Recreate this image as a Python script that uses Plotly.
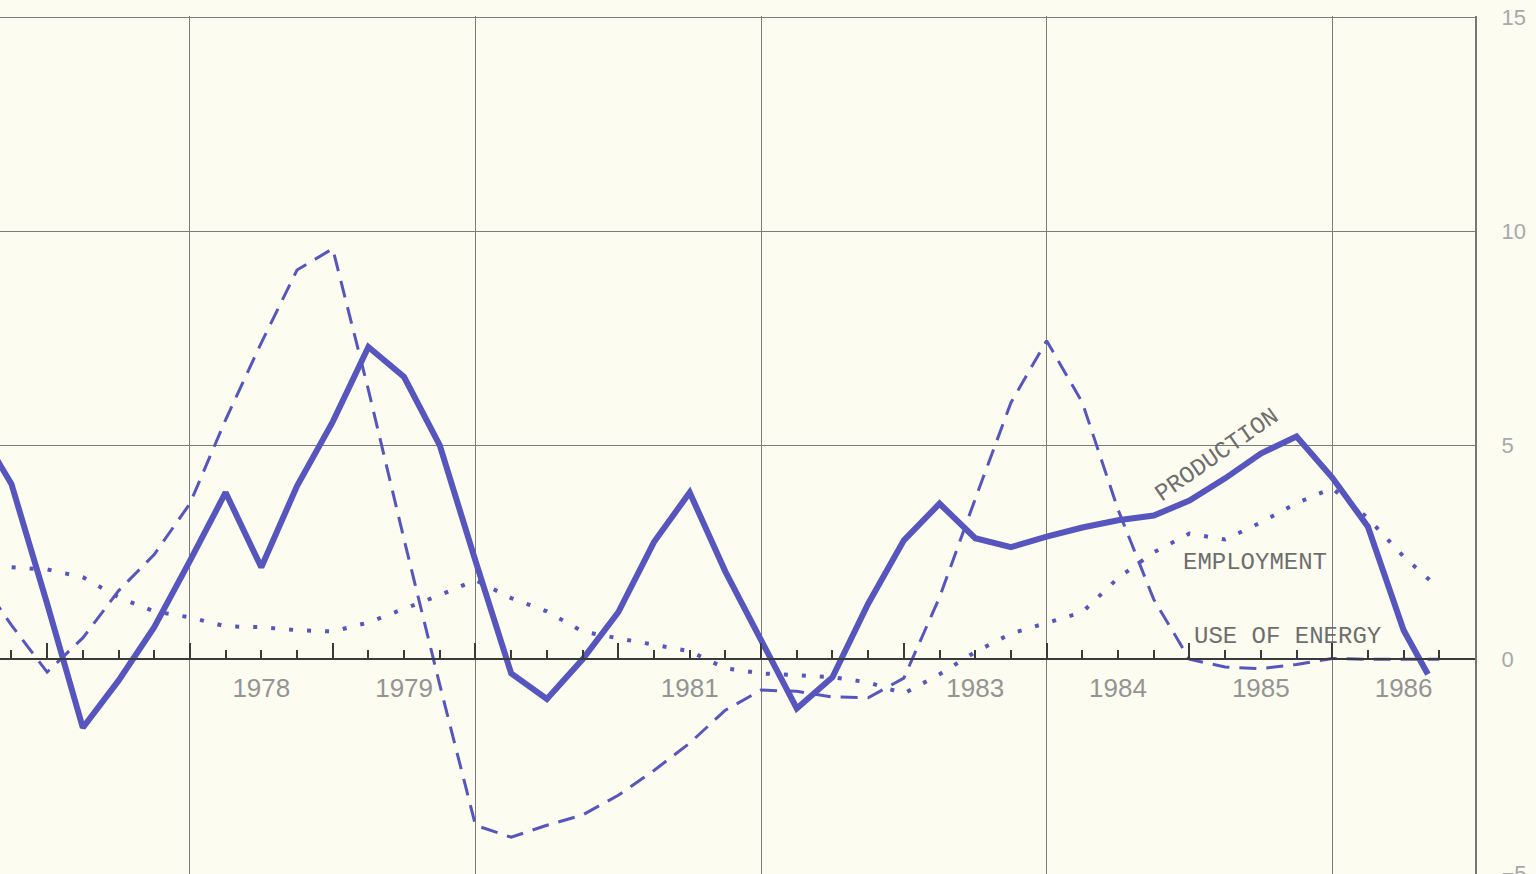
import plotly.graph_objects as go

# ---------------- data ----------------
quarters = [1976.5, 1976.75, 1977.0, 1977.25, 1977.5, 1977.75,
            1978.0, 1978.25, 1978.5, 1978.75, 1979.0, 1979.25, 1979.5, 1979.75,
            1980.0, 1980.25, 1980.5, 1980.75, 1981.0, 1981.25, 1981.5, 1981.75,
            1982.0, 1982.25, 1982.5, 1982.75, 1983.0, 1983.25, 1983.5, 1983.75,
            1984.0, 1984.25, 1984.5, 1984.75, 1985.0, 1985.25, 1985.5, 1985.75,
            1986.0, 1986.25, 1986.5, 1986.75]

production_t = quarters[:-1] + [1986.67]
production = [5.5, 4.1, 1.3, -1.6, -0.5, 0.75,
              2.3, 3.9, 2.15, 4.05, 5.55, 7.3, 6.6, 5.0,
              2.3, -0.33, -0.93, 0.0, 1.1, 2.74, 3.9, 2.05,
              0.45, -1.15, -0.42, 1.3, 2.78, 3.64, 2.83, 2.62,
              2.87, 3.08, 3.25, 3.36, 3.71, 4.23, 4.81, 5.21,
              4.25, 3.1, 0.68, -0.35]

energy = [2.0, 0.8, -0.3, 0.5, 1.6, 2.45,
          3.64, 5.6, 7.4, 9.1, 9.6, 6.3, 2.8, -0.6,
          -3.88, -4.16, -3.88, -3.64, -3.18, -2.6, -1.96, -1.19,
          -0.72, -0.75, -0.88, -0.9, -0.44, 1.45, 3.75, 6.0,
          7.45, 6.0, 3.5, 1.4, 0.0, -0.18, -0.22, -0.12,
          0.02, 0.0, 0.0, 0.0]

employment = [2.2, 2.15, 2.1, 1.92, 1.45, 1.12,
              0.98, 0.77, 0.75, 0.68, 0.65, 0.86, 1.17, 1.5,
              1.85, 1.43, 1.12, 0.65, 0.49, 0.35, 0.19, -0.21,
              -0.33, -0.37, -0.42, -0.54, -0.8, -0.35, 0.17, 0.6,
              0.84, 1.1, 1.9, 2.5, 2.94, 2.8, 3.2, 3.65,
              4.0, 3.3, 2.4, 1.65]

year_label_pos = [1976.5, 1978.5, 1979.5, 1981.5, 1983.5, 1984.5, 1985.5, 1986.5]
year_label_text = ["1976", "1978", "1979", "1981", "1983", "1984", "1985", "1986"]
y_tick_vals = [15, 10, 5, 0, -5]

series_labels = ["PRODUCTION", "EMPLOYMENT", "USE OF ENERGY"]
label_x = [1985.19, 1985.46, 1985.69]
label_y = [4.77, 2.27, 0.54]
label_angle = [-35, 0, 0]

X_RANGE = [1976.67, 1987.0]
Y_RANGE = [-5.02, 15.04]

# ---------------- style ----------------
BG = "#fcfcf1"
LINE = "#5656be"
GRID = "#7c7c7c"
AXIS = "#3a3a3a"

zero_frac = (0 - Y_RANGE[0]) / (Y_RANGE[1] - Y_RANGE[0])

fig = go.Figure()
fig.add_trace(go.Scatter(x=quarters, y=employment, mode="lines",
                         line=dict(color=LINE, width=4, dash="4px,14px"),
                         hoverinfo="skip"))
fig.add_trace(go.Scatter(x=quarters, y=energy, mode="lines",
                         line=dict(color=LINE, width=3, dash="17px,10px"),
                         hoverinfo="skip"))
fig.add_trace(go.Scatter(x=production_t, y=production, mode="lines",
                         line=dict(color=LINE, width=6),
                         hoverinfo="skip"))
# carriers for the overlay axes (zero line with ticks, and year labels)
fig.add_trace(go.Scatter(x=[], y=[], xaxis="x2", yaxis="y", hoverinfo="skip"))
fig.add_trace(go.Scatter(x=[], y=[], xaxis="x3", yaxis="y", hoverinfo="skip"))

for txt, lx, ly, ang in zip(series_labels, label_x, label_y, label_angle):
    fig.add_annotation(x=lx, y=ly, xref="x", yref="y", text=txt, showarrow=False,
                       textangle=ang,
                       font=dict(family="Liberation Mono", size=24, color="#6e6e6e"))

fig.update_layout(
    width=1536, height=874,
    margin=dict(l=0, r=61, t=16, b=0, autoexpand=False),
    paper_bgcolor=BG, plot_bgcolor=BG,
    showlegend=False,
    xaxis=dict(range=X_RANGE, tickmode="linear", tick0=1978, dtick=2, automargin=False,
               showgrid=True, gridcolor=GRID, gridwidth=1,
               showticklabels=False, ticks="", zeroline=False, showline=False),
    xaxis2=dict(range=X_RANGE, overlaying="x", anchor="free", position=zero_frac,
                automargin=False,
                showline=True, linecolor=AXIS, linewidth=2,
                tickmode="linear", tick0=1977, dtick=1,
                ticks="inside", ticklen=15, tickwidth=2, tickcolor=AXIS,
                minor=dict(ticks="inside", tick0=1976.75, dtick=0.25,
                           ticklen=8, tickwidth=2, tickcolor=AXIS, showgrid=False),
                showticklabels=False, showgrid=False, zeroline=False),
    xaxis3=dict(range=X_RANGE, overlaying="x", anchor="free", position=zero_frac,
                automargin=False,
                tickmode="array", tickvals=year_label_pos, ticktext=year_label_text,
                ticks="outside", ticklen=6, tickcolor="rgba(0,0,0,0)",
                tickfont=dict(family="Liberation Sans", size=26, color="#949494"),
                ticklabeloverflow="allow",
                showline=False, showgrid=False, zeroline=False),
    yaxis=dict(range=Y_RANGE, side="right", tickmode="array", tickvals=y_tick_vals,
               automargin=False,
               showgrid=True, gridcolor=GRID, gridwidth=1, zeroline=False,
               showline=True, linecolor="#777777", linewidth=2,
               ticks="outside", ticklen=20, tickcolor="rgba(0,0,0,0)",
               ticklabeloverflow="allow",
               tickfont=dict(family="Liberation Sans", size=22, color="#a8a8a8")),
)

fig.write_html("out.html",
               config={"displayModeBar": False},
               post_script="document.body.style.margin='0px';"
                           "document.body.style.overflow='hidden';"
                           "document.body.style.background='" + BG + "';")
